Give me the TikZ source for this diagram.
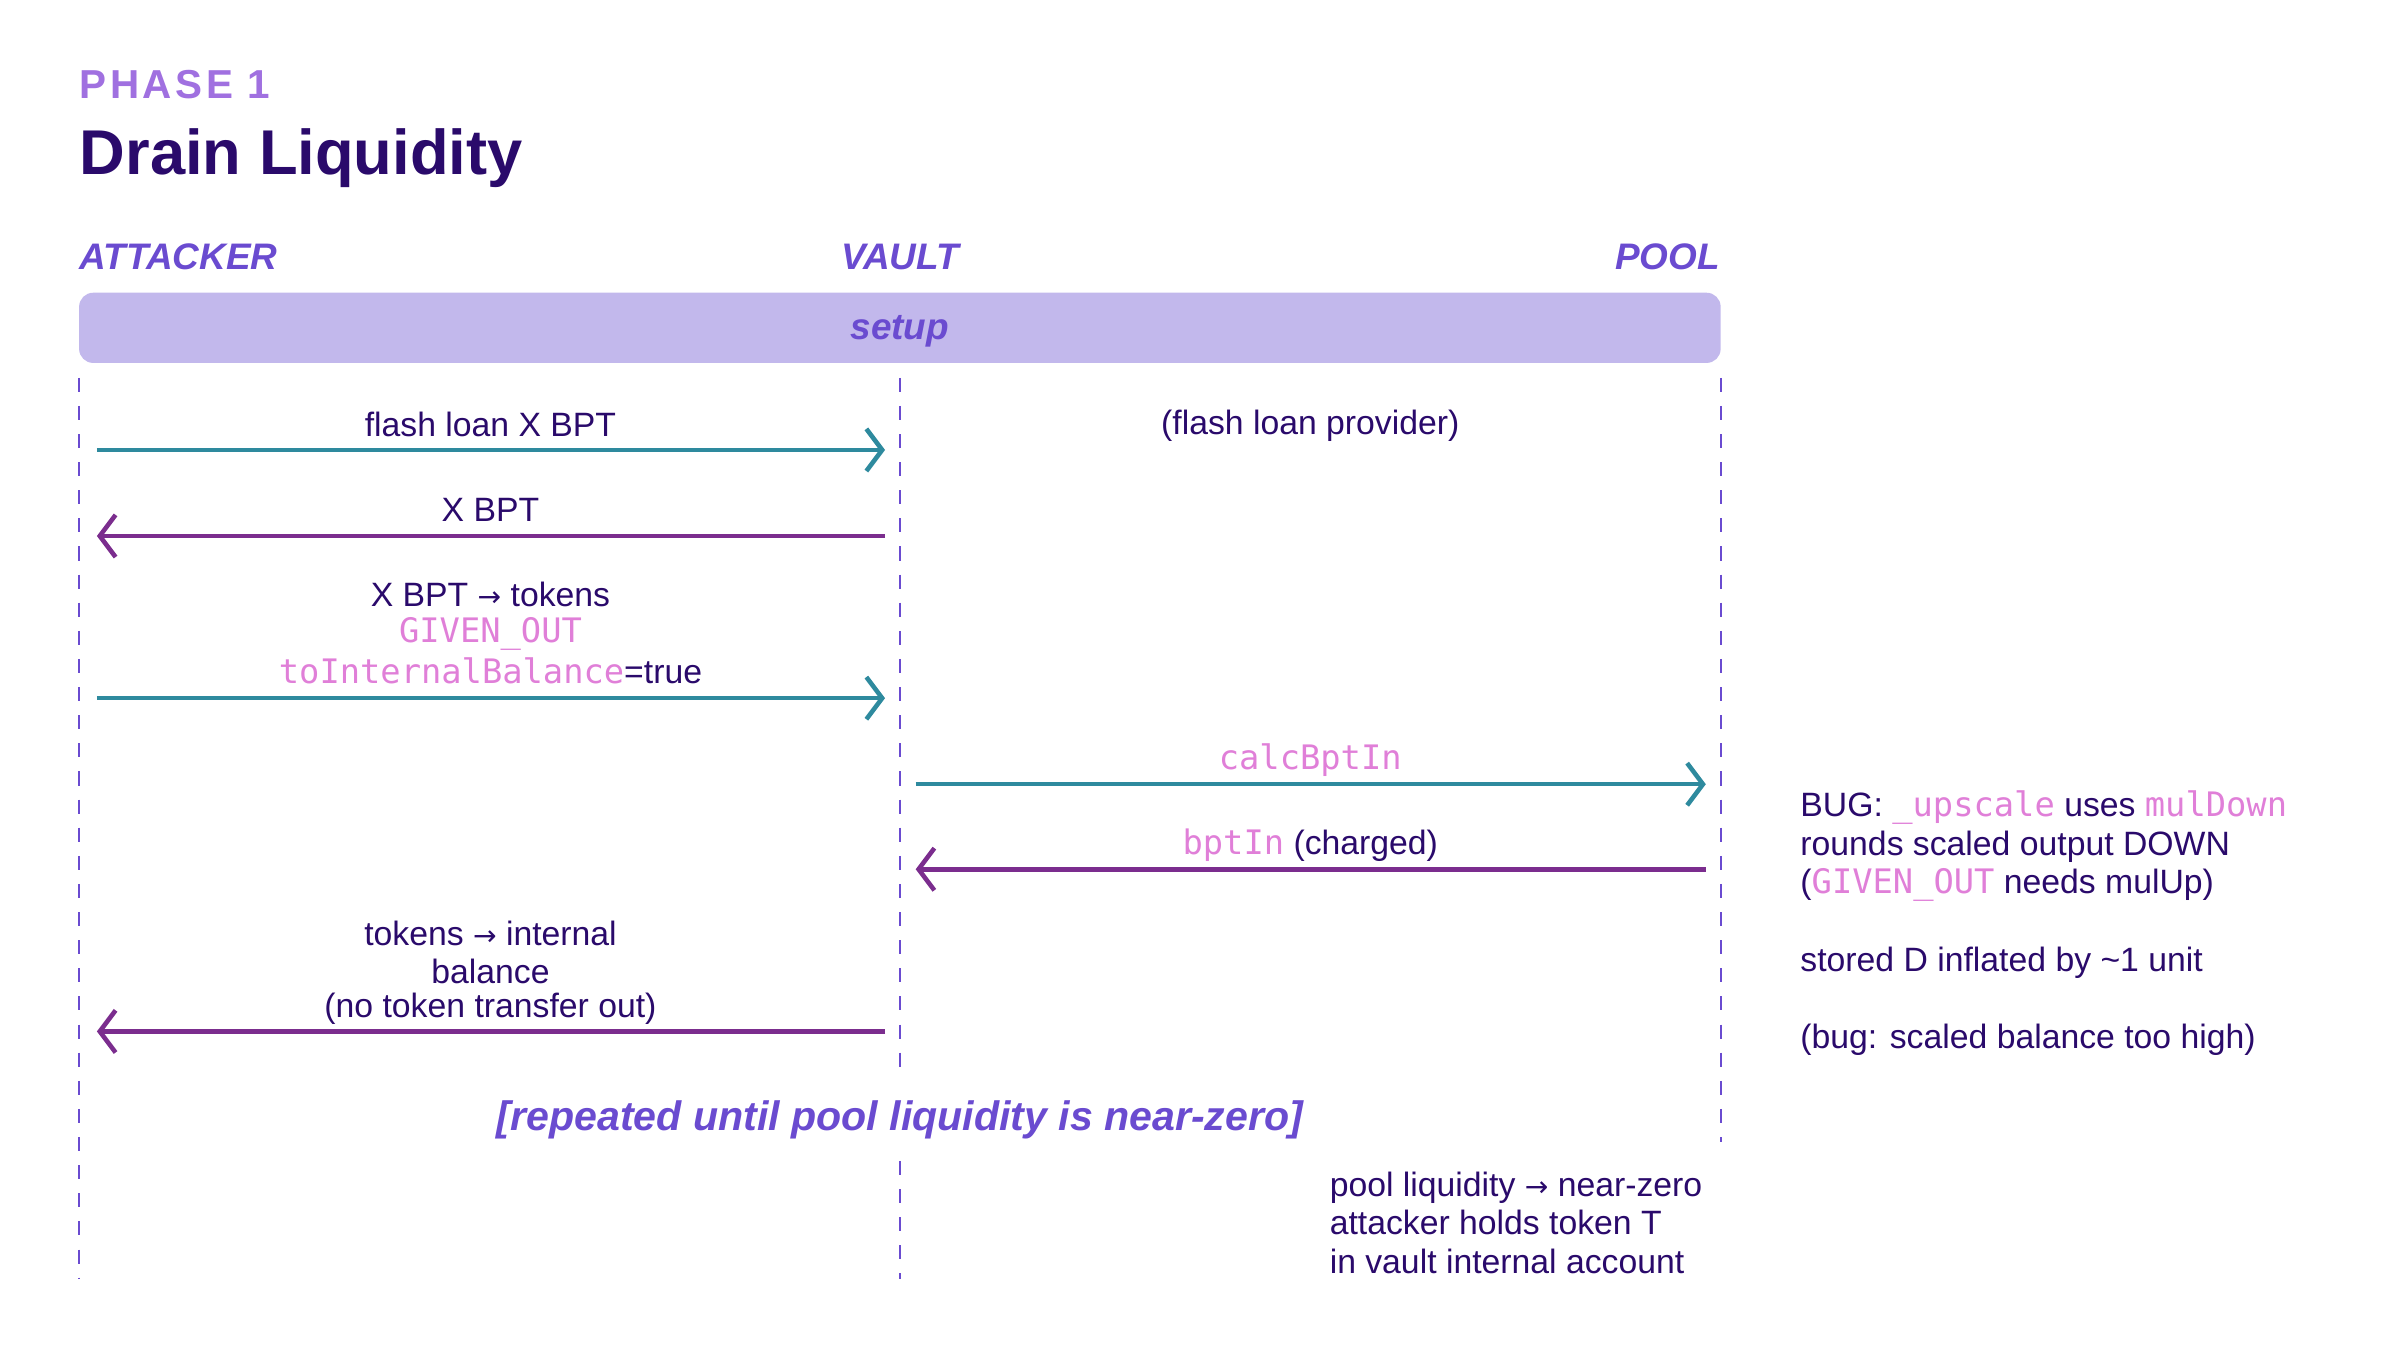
\documentclass[tikz,border=0pt]{standalone}
\usepackage{fontspec}
\setmainfont{Liberation Sans}
\setmonofont{DejaVu Sans Mono}
\newfontfamily\arrowfont{DejaVu Sans}
\usetikzlibrary{arrows.meta}
\definecolor{ink}{HTML}{2A0A6B}
\definecolor{hdr}{HTML}{6A4BD0}
\definecolor{phase}{HTML}{A070E0}
\definecolor{bar}{HTML}{C2B8EC}
\definecolor{teal}{HTML}{2E8A9E}
\definecolor{plum}{HTML}{7B2D8E}
\definecolor{pink}{HTML}{E07FD8}
\newcommand{\cd}[1]{{\ttfamily\color{pink}#1}}
\newcommand{\ar}{{\arrowfont\fontsize{8}{10}\selectfont →}}
\tikzset{
  txt/.style={text=ink,font=\fontsize{9.6}{12}\selectfont,inner sep=0pt,align=center},
  hd/.style={text=hdr,font=\fontsize{10.5}{13}\selectfont\bfseries\itshape,inner sep=0pt},
  life/.style={hdr,line width=0.6pt,dash pattern=on 4pt off 4pt},
  msg/.style={line width=1.3pt,-{Straight Barb[length=4.5pt,width=12pt,line width=1.3pt]}},
  go/.style={msg,teal},
  back/.style={msg,plum}
}
\begin{document}
\begin{tikzpicture}[x=0.00989cm,y=-0.00989cm]
\useasboundingbox (0,0) rectangle (2427,1365);
\node[anchor=west,text=phase,font=\fontsize{11.5}{13}\selectfont\bfseries,inner sep=0pt] (ph) at (80,86) {P\kern1ptH\kern1ptA\kern1ptS\kern1ptE\kern1pt\ 1};
\node[anchor=west,text=ink,font=\fontsize{18}{20}\selectfont\bfseries,inner sep=0pt] (ti) at (80,160) {Drain Liquidity};
\node[hd,anchor=west] (hA) at (80,260) {ATTACKER};
\node[hd] (hV) at (910,260) {VAULT};
\node[hd,anchor=east] (hP) at (1740,260) {POOL};
\fill[bar,rounded corners=4pt] (80,296) rectangle (1740,367);
\node[hd] (setup) at (910,335) {setup};
% lifelines
\coordinate (a0) at (80,382); \coordinate (a1) at (80,1293);
\coordinate (v0) at (910,382); \coordinate (v1) at (910,1082);
\coordinate (v2) at (910,1174); \coordinate (v3) at (910,1293);
\coordinate (p0) at (1740,382); \coordinate (p1) at (1740,1155);
\draw[life] (a0) -- (a1);
\draw[life] (v0) -- (v1);
\draw[life] (v2) -- (v3);
\draw[life] (p0) -- (p1);
% messages
\coordinate (m1a) at (98,455); \coordinate (m1b) at (895,455);
\draw[go] (m1a) -- (m1b);
\node[txt] (l1) at (496,429) {flash loan X BPT};
\node[txt] (fp) at (1325,431) {(flash loan provider)};
\coordinate (m2a) at (895,542); \coordinate (m2b) at (98,542);
\draw[back] (m2a) -- (m2b);
\node[txt] (l2) at (496,516) {X BPT};
\coordinate (m3a) at (98,706); \coordinate (m3b) at (895,706);
\draw[go] (m3a) -- (m3b);
\node[txt] (l3a) at (496,601) {X BPT \ar{} tokens};
\node[txt] (l3b) at (496,641) {\cd{GIVEN\_OUT}};
\node[txt] (l3c) at (496,678) {\cd{toInternalBalance}=true};
\coordinate (m4a) at (926,793); \coordinate (m4b) at (1725,793);
\draw[go] (m4a) -- (m4b);
\node[txt] (l4) at (1325,769) {\cd{calcBptIn}};
\coordinate (m5a) at (1725,879); \coordinate (m5b) at (926,879);
\draw[back] (m5a) -- (m5b);
\node[txt] (l5) at (1325,855) {\cd{bptIn} (charged)};
\coordinate (m6a) at (895,1043); \coordinate (m6b) at (98,1043);
\draw[back] (m6a) -- (m6b);
\node[txt] (l6a) at (496,944) {tokens \ar{} internal};
\node[txt] (l6b) at (496,982) {balance};
\node[txt] (l6c) at (496,1020) {(no token transfer out)};
\node[hd,font=\fontsize{11.7}{14}\selectfont\bfseries\itshape] (rep) at (910,1132) {[repeated until pool liquidity is near-zero]};
\node[txt,anchor=north west,align=left,font=\fontsize{9.6}{11}\selectfont] (pn) at (1344,1184) {pool liquidity \ar{} near-zero\\attacker holds token T\\in vault internal account};
\node[txt,anchor=north west,align=left,font=\fontsize{9.6}{11}\selectfont] (bug) at (1820,799) {BUG: \cd{\_upscale} uses \cd{mulDown}\\rounds scaled output DOWN\\(\cd{GIVEN\_OUT} needs mulUp)\\[11pt]stored D inflated by \textasciitilde1 unit\\[11pt](bug: scaled balance too high)};
\end{tikzpicture}
\end{document}
